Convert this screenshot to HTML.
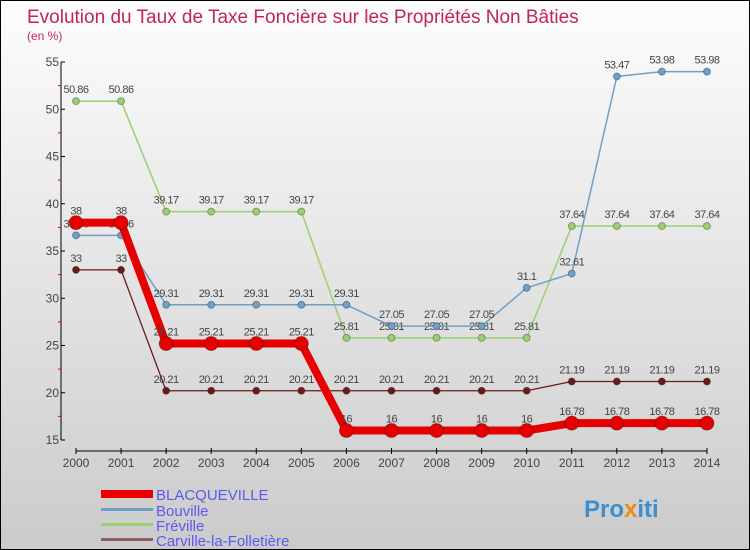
<!DOCTYPE html>
<html><head><meta charset="utf-8"><style>
body{margin:0}
#c{width:750px;height:550px;position:relative;box-sizing:border-box;border:1px solid #000;background:linear-gradient(#fdfdfd,#cbcbcb);font-family:"Liberation Sans",sans-serif;overflow:hidden}
</style></head><body>
<div id="c">
<svg id="s" width="750" height="550" style="position:absolute;left:0;top:0">
<text x="26" y="22" font-size="19" fill="#c0245c">Evolution du Taux de Taxe Foncière sur les Propriétés Non Bâties</text>
<text x="26" y="39" font-size="12" fill="#c0245c">(en %)</text>
<g id="ax"></g><g id="ser"></g>
<g>
<rect x="100" y="489" width="52" height="8" fill="#e00"/>
<text x="155" y="499" font-size="15" fill="#5a5af0">BLACQUEVILLE</text>
<rect x="100" y="507" width="52" height="3" fill="#6fa0c8"/>
<text x="155" y="515" font-size="15" fill="#5a5af0">Bouville</text>
<rect x="100" y="522" width="52" height="3" fill="#99d070"/>
<text x="155" y="530" font-size="15" fill="#5a5af0">Fréville</text>
<rect x="100" y="537" width="52" height="3" fill="#8a6060"/>
<text x="155" y="545" font-size="15" fill="#5a5af0">Carville-la-Folletière</text>
</g>
<text x="583" y="516" font-size="24" font-weight="bold" fill="#3a8fd0">Pro<tspan fill="#f08a10">x</tspan>iti</text>
</svg></div>
<script>
const years=[2000,2001,2002,2003,2004,2005,2006,2007,2008,2009,2010,2011,2012,2013,2014];
const yTicks=[15,20,25,30,35,40,45,50,55];
const blacqueville=[38,38,25.21,25.21,25.21,25.21,16,16,16,16,16,16.78,16.78,16.78,16.78];
const bouville=[36.66,36.66,29.31,29.31,29.31,29.31,29.31,27.05,27.05,27.05,31.1,32.61,53.47,53.98,53.98];
const freville=[50.86,50.86,39.17,39.17,39.17,39.17,25.81,25.81,25.81,25.81,25.81,37.64,37.64,37.64,37.64];
const carville=[33,33,20.21,20.21,20.21,20.21,20.21,20.21,20.21,20.21,20.21,21.19,21.19,21.19,21.19];
const NS="http://www.w3.org/2000/svg";
const x=i=>75+i*45.07;
const y=v=>439-(v-15)*(378/40);
function mk(t,a,p){const e=document.createElementNS(NS,t);for(const k in a)e.setAttribute(k,a[k]);p.appendChild(e);return e;}
const ax=document.getElementById('ax');
let l=mk('line',{x1:60,y1:y(55),x2:60,y2:y(15),stroke:'#000'},ax);


l=mk('line',{x1:x(0),y1:450,x2:x(14),y2:450,stroke:'#000'},ax);


yTicks.forEach((v,i)=>{
 mk('line',{x1:60,y1:y(v),x2:64,y2:y(v),stroke:'#000'},ax);
 if(i<yTicks.length-1)mk('line',{x1:57,y1:y(v+2.5),x2:60,y2:y(v+2.5),stroke:'#e00'},ax);
 const t=mk('text',{x:58,y:y(v)+4,'font-size':12,fill:'#444','text-anchor':'end'},ax);
 t.textContent=v;
 
 
});
years.forEach((yr,i)=>{
 mk('line',{x1:x(i),y1:447,x2:x(i),y2:453,stroke:'#000'},ax);
 const t=mk('text',{x:x(i),y:466,'font-size':12,fill:'#444','text-anchor':'middle'},ax);
 t.textContent=yr;
 
 
});
const ser=document.getElementById('ser');
function draw(data,col,w,r,name,fmt){
 const g=mk('g',{},ser);
 
 
 const p=mk('polyline',{points:data.map((v,i)=>x(i)+','+y(v)).join(' '),fill:'none',stroke:col,'stroke-width':w,'stroke-linejoin':'round'},g);
 
 
 data.forEach((v,i)=>{
  const c=mk('circle',{cx:x(i),cy:y(v),r:r,fill:col,stroke:'rgba(0,0,0,0.3)'},g);
  
  
  const t=mk('text',{x:x(i),y:y(v)-8,'font-size':11,fill:'#444','text-anchor':'middle','letter-spacing':'-0.5'},g);
  t.textContent=String(v);
  
  
 });
}
draw(carville,'#6b1a1a',1.3,3.5,'carville');
draw(freville,'#99d070',1.5,3.5,'freville');
draw(bouville,'#6fa0c8',1.5,3.5,'bouville');
draw(blacqueville,'#e60000',8,7,'blacqueville');
</script>
</body></html>
